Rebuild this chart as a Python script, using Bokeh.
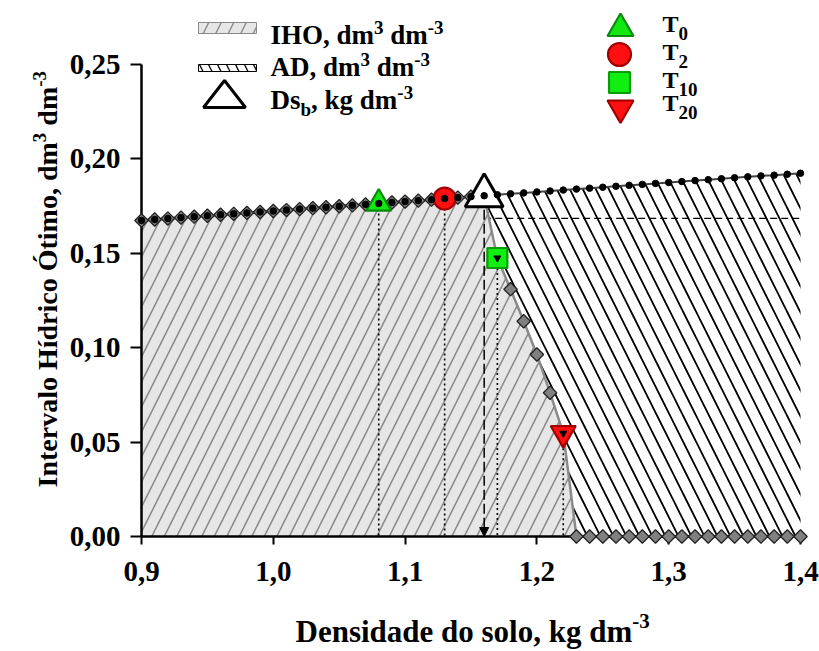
import math
from bokeh.plotting import figure
from bokeh.models import (Range1d, LinearAxis, FixedTicker, CustomJSTickFormatter,
                          Label, BoxAnnotation, PolyAnnotation, Arrow, NormalHead)
from bokeh.embed import file_html
from bokeh.resources import INLINE

# ---------------- data ----------------
dens = [0.90, 0.91, 0.92, 0.93, 0.94, 0.95, 0.96, 0.97, 0.98, 0.99,
        1.00, 1.01, 1.02, 1.03, 1.04, 1.05, 1.06, 1.07, 1.08, 1.09,
        1.10, 1.11, 1.12, 1.13, 1.14, 1.15, 1.16, 1.17, 1.18, 1.19,
        1.20, 1.21, 1.22, 1.23, 1.24, 1.25, 1.26, 1.27, 1.28, 1.29,
        1.30, 1.31, 1.32, 1.33, 1.34, 1.35, 1.36, 1.37, 1.38, 1.39, 1.40]

theta_cc = [0.1674, 0.1679, 0.1684, 0.1689, 0.1694, 0.1699, 0.1704, 0.1709, 0.1714, 0.1719,
            0.1724, 0.1729, 0.1734, 0.1739, 0.1744, 0.1749, 0.1754, 0.1759, 0.1764, 0.1769,
            0.1774, 0.1779, 0.1784, 0.1790, 0.1795, 0.1800, 0.1805, 0.1810, 0.1815, 0.1820,
            0.1825, 0.1830, 0.1835, 0.1840, 0.1845, 0.1850, 0.1855, 0.1860, 0.1865, 0.1870,
            0.1875, 0.1880, 0.1885, 0.1890, 0.1895, 0.1900, 0.1905, 0.1910, 0.1914, 0.1919, 0.1924]

iho = [0.1674, 0.1679, 0.1684, 0.1689, 0.1694, 0.1699, 0.1704, 0.1709, 0.1714, 0.1719,
       0.1724, 0.1729, 0.1734, 0.1739, 0.1744, 0.1749, 0.1754, 0.1759, 0.1764, 0.1769,
       0.1774, 0.1779, 0.1784, 0.1790, 0.1795, 0.1800, 0.1805, 0.1475, 0.1310, 0.1140,
       0.0964, 0.0761, 0.0547, 0.0, 0.0, 0.0, 0.0, 0.0, 0.0, 0.0,
       0.0, 0.0, 0.0, 0.0, 0.0, 0.0, 0.0, 0.0, 0.0, 0.0, 0.0]

trt_names = ["0", "2", "10", "20"]
trt_x = [1.08, 1.13, 1.17, 1.22]
trt_y = [0.1764, 0.1790, 0.1475, 0.0547]
trt_marker = ["triangle", "circle", "square", "inverted_triangle"]
trt_fill = ["#11e811", "#ff1010", "#11ee11", "#ff1010"]
trt_line = ["#0a8a0a", "#a00000", "#0a9a0a", "#a00000"]
trt_size = [25, 22, 20, 25]

dsb_x = 1.16
dsb_y = 0.1805
ad_dash_y = 0.1685

x_ticks = [0.9, 1.0, 1.1, 1.2, 1.3, 1.4]
x_tick_labels = ["0,9", "1,0", "1,1", "1,2", "1,3", "1,4"]
y_ticks = [0.0, 0.05, 0.10, 0.15, 0.20, 0.25]
y_tick_labels = ["0,00", "0,05", "0,10", "0,15", "0,20", "0,25"]

# ---------------- layout ----------------
W, H = 819, 651
FONT = "Liberation Serif"
BL = 0.38  # empirical baseline correction (fraction of font size)
ax_left, ax_right, ax_bottom, ax_top = 141, 800, 536, 64
kx = (ax_right - ax_left) / (x_ticks[-1] - x_ticks[0])
ky = (ax_bottom - ax_top) / (y_ticks[-1] - y_ticks[0])
x0 = x_ticks[0] - ax_left / kx
x1 = x0 + W / kx
y1 = y_ticks[-1] + ax_top / ky
y0 = y1 - H / ky


def px2x(px):
    return x0 + px / kx


def py2y(py):
    return y1 - py / ky


p = figure(width=W, height=H, x_range=Range1d(x0, x1), y_range=Range1d(y0, y1),
           output_backend="svg", toolbar_location=None, title=None,
           x_axis_location=None, y_axis_location=None, min_border=0)
p.outline_line_color = None
p.background_fill_color = "white"
p.border_fill_color = "white"
p.xgrid.grid_line_color = None
p.ygrid.grid_line_color = None

fmt_js = """
let best = 0; let d = Infinity;
for (let i = 0; i < tvals.length; i++) { const e = Math.abs(tvals[i] - tick); if (e < d) { d = e; best = i } }
return tlabs[best];
"""

yaxis = LinearAxis(fixed_location=x_ticks[0], bounds=(y_ticks[0], y_ticks[-1]),
                   ticker=FixedTicker(ticks=y_ticks),
                   formatter=CustomJSTickFormatter(code=fmt_js, args=dict(tvals=y_ticks, tlabs=y_tick_labels)))
xaxis = LinearAxis(fixed_location=y_ticks[0], bounds=(x_ticks[0], x_ticks[-1]),
                   ticker=FixedTicker(ticks=x_ticks),
                   formatter=CustomJSTickFormatter(code=fmt_js, args=dict(tvals=x_ticks, tlabs=x_tick_labels)))
for ax in (xaxis, yaxis):
    ax.axis_line_width = 2.5
    ax.axis_line_color = "black"
    ax.major_tick_line_width = 2
    ax.major_tick_line_color = "black"
    ax.major_tick_in = 0
    ax.minor_tick_line_color = None
    ax.major_label_text_font = FONT
    ax.major_label_text_font_style = "bold"
    ax.major_label_text_font_size = "29px"
    ax.major_label_text_color = "black"
yaxis.major_tick_out = 11
yaxis.major_label_standoff = 10
xaxis.major_tick_out = 8
xaxis.major_label_standoff = 17
p.add_layout(yaxis, "left")
p.add_layout(xaxis, "below")

# ---------------- areas ----------------
i0 = dens.index(dsb_x)
p.patch(dens[i0:] + [dens[-1], dsb_x], theta_cc[i0:] + [0.0, 0.0],
        fill_color="white", line_color=None,
        hatch_pattern="\\", hatch_color="black", hatch_weight=1.8, hatch_scale=26)
p.segment(x0=[dsb_x], y0=[ad_dash_y], x1=[dens[-1]], y1=[ad_dash_y],
          line_color="black", line_width=1.3, line_dash="7 4")
p.patch([dens[0]] + dens + [dens[-1]], [0.0] + iho + [0.0],
        fill_color="#e6e6e6", line_color=None,
        hatch_pattern="/", hatch_color="#8a8a8a", hatch_weight=1.6, hatch_scale=25)

# vertical reference lines
p.segment(x0=trt_x, y0=trt_y, x1=trt_x, y1=[0.0] * len(trt_x),
          line_color="black", line_width=1.6, line_dash="2 3")
p.add_layout(Arrow(x_start=dsb_x, y_start=dsb_y, x_end=dsb_x, y_end=0.0,
                   line_color="black", line_width=1.5, line_dash="10 4", level="glyph",
                   end=NormalHead(size=9, fill_color="black", line_color="black")))

# lines
p.line(dens, theta_cc, line_color="#444444", line_width=2)
p.line(dens, iho, line_color="#8a8a8a", line_width=2.5)

# markers
p.scatter(dens, iho, marker="square", angle=math.pi / 4, size=9.5,
          fill_color="#808080", line_color="#222222", line_width=1.3, level="annotation")
for i in range(len(trt_x)):
    p.scatter([trt_x[i]], [trt_y[i]], marker=trt_marker[i], size=trt_size[i],
              fill_color=trt_fill[i], line_color=trt_line[i], line_width=2.2, level="annotation")
p.scatter([dsb_x], [dsb_y], marker="triangle", size=38,
          fill_color="white", line_color="black", line_width=3, level="annotation")
p.scatter(dens, theta_cc, marker="circle", size=6.5, fill_color="black", line_color="black",
          level="annotation")
p.scatter(trt_x[2:], trt_y[2:], marker="inverted_triangle", size=7,
          fill_color="black", line_color="black", level="annotation")

# ---------------- texts ----------------
TW = {' ': 250, ',': 250, '-': 333, 'A': 722, 'D': 722, 'H': 778, 'I': 389, 'O': 778, 'T': 667,
      'a': 500, 'b': 556, 'c': 444, 'd': 556, 'e': 444, 'g': 500, 'i': 278, 'k': 556, 'l': 278,
      'm': 833, 'n': 556, 'o': 500, 'r': 444, 's': 389, 't': 333, 'v': 500, 'í': 278, 'Ó': 778}


def tw(s, size):
    return sum(TW.get(c, 500) for c in s) / 1000.0 * size


def rich(segs, sx, base_top, rotate=False):
    pos = 0.0
    for text, size, rise in segs:
        lead = len(text) - len(text.lstrip())
        pos += tw(text[:lead], size)
        t = text.lstrip()
        corr = BL * size
        common = dict(text=t, text_font=FONT, text_font_size=f"{size}px", text_font_style="bold",
                      text_color="black", text_baseline="alphabetic", text_align="left",
                      x_units="screen", y_units="screen")
        if rotate:
            p.add_layout(Label(x=sx - rise - corr, y=H - base_top + pos, angle=math.pi / 2, **common))
        else:
            p.add_layout(Label(x=sx + pos, y=H - base_top + rise + corr, **common))
        pos += tw(t, size)


# axis titles
rich([("Densidade do solo, kg dm", 31, 0), ("-3", 21, 15)], 295, 643)
rich([("Intervalo Hídrico Ótimo, dm", 28, 0), ("3", 19, 12), (" dm", 28, 0), ("-3", 19, 12)],
     58, 487, rotate=True)

# legend (left block)
p.add_layout(BoxAnnotation(left=198, right=256, top=H - 22, bottom=H - 33,
                           left_units="screen", right_units="screen", top_units="screen", bottom_units="screen",
                           fill_color="#e6e6e6", fill_alpha=1, line_color="#8a8a8a", line_alpha=1, line_width=1,
                           hatch_pattern="/", hatch_color="#8a8a8a", hatch_alpha=1, hatch_weight=1.4, hatch_scale=25))
p.add_layout(BoxAnnotation(left=198, right=256, top=H - 64, bottom=H - 71,
                           left_units="screen", right_units="screen", top_units="screen", bottom_units="screen",
                           fill_color="white", fill_alpha=1, line_color="black", line_alpha=1, line_width=1,
                           hatch_pattern="\\", hatch_color="black", hatch_alpha=1, hatch_weight=1.3, hatch_scale=18))
p.add_layout(PolyAnnotation(xs=[203, 245, 224], ys=[H - 107, H - 107, H - 80],
                            xs_units="screen", ys_units="screen",
                            fill_color="white", fill_alpha=1, line_color="black", line_alpha=1, line_width=3))
rich([("IHO, dm", 27, 0), ("3", 19, 11), (" dm", 27, 0), ("-3", 19, 11)], 270, 45)
rich([("AD, dm", 27, 0), ("3", 19, 11), (" dm", 27, 0), ("-3", 19, 11)], 270, 77)
rich([("Ds", 27, 0), ("b", 19, -6), (", kg dm", 27, 0), ("-3", 19, 11)], 270, 110)

# legend (right block)
leg_cx = [620, 619, 619, 620]
leg_cy = [28, 54, 82, 107.5]
leg_base = [33, 61, 89, 112]
for i in range(len(trt_names)):
    p.scatter([px2x(leg_cx[i])], [py2y(leg_cy[i])], marker=trt_marker[i], size=trt_size[i] + 1,
              fill_color=trt_fill[i], line_color=trt_line[i], line_width=2.2, level="annotation")
    rich([("T", 24, 0), (trt_names[i], 19, -7)], 662, leg_base[i])

open("out.html", "w").write(file_html(p, INLINE))
